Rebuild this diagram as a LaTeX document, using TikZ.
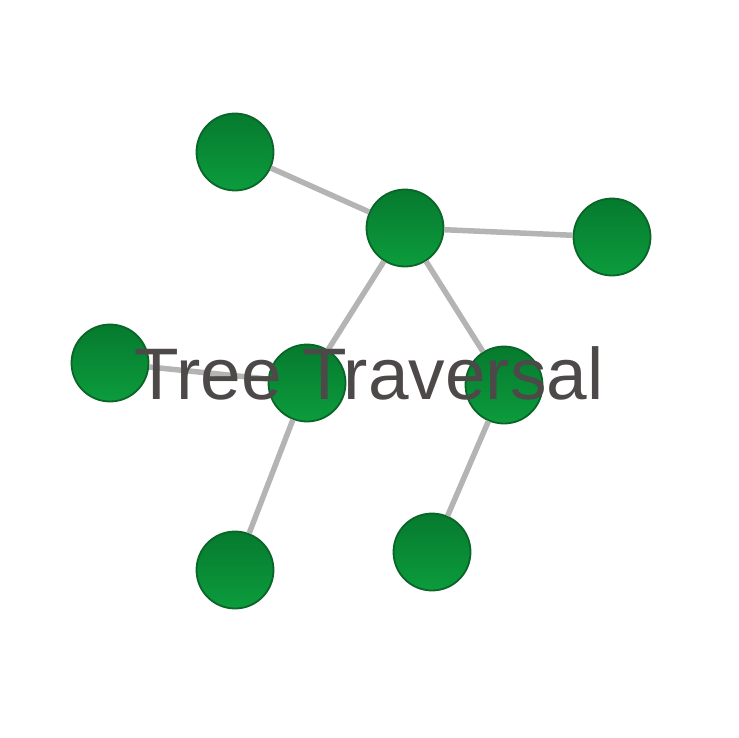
\documentclass[tikz,border=0pt]{standalone}
\usepackage{fontspec}
\setmainfont{Liberation Sans}
\usetikzlibrary{positioning}

\definecolor{leaftop}{HTML}{067A2E}
\definecolor{leafbottom}{HTML}{0C9C3D}
\definecolor{leafrim}{HTML}{0A6529}
\definecolor{branchgray}{HTML}{B4B4B4}
\definecolor{titlegray}{HTML}{4D4949}

\begin{document}
\begin{tikzpicture}[
		x=1pt, y=-1pt,
		vertex/.style={circle, minimum size=77pt, inner sep=0pt, top color=leaftop, bottom color=leafbottom, draw=leafrim, line width=1.8pt},
		branch/.style={branchgray, line width=5.5pt},
		title/.style={text=titlegray, font=\fontsize{73}{80}\selectfont, anchor=base}
		]
		
		% Fix the canvas
		\useasboundingbox (0,0) rectangle (738,738);
		
		% Vertices of the tree
		\node[vertex] (root) at (405,228) {};
		\node[vertex] (nw) at (235,152) {};
		\node[vertex] (east) at (612,237) {};
		\node[vertex] (west) at (110,363) {};
		\node[vertex] (midl) at (307,383) {};
		\node[vertex] (midr) at (504,385) {};
		\node[vertex] (lowl) at (235,570) {};
		\node[vertex] (lowr) at (432,552) {};
		
		% Branches between the vertices
		\foreach \a/\b in {root/nw, root/east, root/midl, root/midr, midl/west, midl/lowl, midr/lowr} {
			\draw[branch] (\a) -- (\b);
		}
		
		% Title across the middle
		\node[title] (caption) at (369,399) {Tree Traversal};
		
	\end{tikzpicture}
\end{document}
